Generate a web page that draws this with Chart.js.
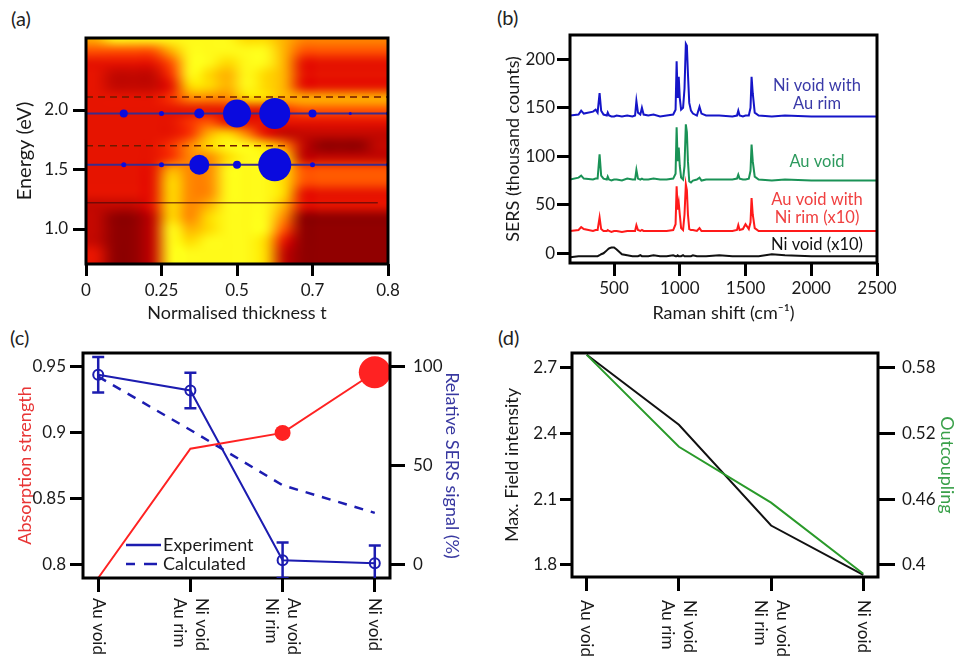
<!DOCTYPE html>
<html>
<head>
<meta charset="utf-8">
<script src="https://cdn.jsdelivr.net/npm/chart.js@4.4.1/dist/chart.umd.min.js"></script>
<style>
  body{margin:0;background:#fff;width:958px;height:659px;position:relative;overflow:hidden;font-family:Lato,sans-serif;}
  canvas{position:absolute;}
  .tag{position:absolute;font-size:20px;color:#222;line-height:22px;}
</style>
</head>
<body>
<div class="tag" style="left:11px;top:7px">(a)</div>
<div class="tag" style="left:497px;top:6px">(b)</div>
<div class="tag" style="left:10px;top:326px">(c)</div>
<div class="tag" style="left:498px;top:326px">(d)</div>
<canvas id="chartA" width="470" height="330" style="left:0;top:0"></canvas>
<canvas id="chartB" width="488" height="330" style="left:470px;top:0"></canvas>
<canvas id="chartC" width="480" height="329" style="left:0;top:330px"></canvas>
<canvas id="chartD" width="478" height="329" style="left:480px;top:330px"></canvas>
<script>
// ---- (a) absorption map + SERS bubbles ----
const thicknessTicks = [0, 2, 4, 6, 8];            // axis runs in eighths of the plotted range
const thicknessLabels = ["0", "0.25", "0.5", "0.7", "0.8"];
const energyTicks = [1.0, 1.5, 2.0];
const bubbleCols = [1, 2, 3, 4, 5, 6, 7, 8];
const upperEnergy = 1.97;
const lowerEnergy = 1.54;
const upperSizes = [4, 2.5, 5, 14, 15.5, 4, 1.5, 2];
const lowerSizes = [2.5, 2.5, 10, 4, 16.5, 2.5, 0, 2];
const dashedEnergies = [2.11, 1.70];
const dashedEnds = [8, 5.3];
const cutoffEnergy = 1.22;
const cutoffEnd = 7.73;
// absorption map, rows from 2.6 eV down to 0.7 eV (0.1 eV steps), 16 columns; 0 = dark red .. 9 = yellow
const heatLevels = [
  [7,9,9,9,9,9,9,9, 8,8,7,6,6,6,6,6],
  [5,5,5,5,7,9,9,9, 9,9,7,5,5,5,5,5],
  [3,3,3,3,5,9,9,8, 9,9,7,3,3,3,3,3],
  [3,2,2,2,4,9,8,7, 9,8,7,3,3,3,3,3],
  [3,2,2,2,3,8,8,7, 9,8,7,3,3,3,3,3],
  [3,3,3,3,4,6,6,6, 8,8,7,7,7,7,7,7],
  [3,3,3,3,3,3,3,3, 3,3,4,5,5,5,5,5],
  [3,3,3,3,3,4,5,3, 3,3,3,3,3,3,3,3],
  [3,3,3,3,3,4,7,8, 6,3,2,2,2,2,2,2],
  [3,3,3,3,4,6,8,9, 9,8,6,2,1,1,1,2],
  [3,3,3,3,4,6,6,8, 9,9,8,2,2,2,2,2],
  [3,3,3,3,7,6,6,9, 9,9,8,5,5,5,5,5],
  [3,3,3,3,8,6,6,9, 9,9,8,5,5,5,5,5],
  [3,3,3,3,8,6,6,9, 9,9,8,3,3,3,3,3],
  [2,2,2,3,8,6,7,9, 9,9,7,3,3,3,3,3],
  [2,1,1,2,8,6,8,9, 9,9,6,1,1,1,1,1],
  [2,1,1,2,9,7,8,9, 9,9,5,1,1,1,1,1],
  [2,1,1,2,9,8,9,9, 9,8,3,1,1,1,1,1],
  [3,1,1,2,9,9,9,9, 9,8,2,1,1,1,1,1],
  [3,1,1,2,9,9,9,9, 9,8,2,1,1,1,1,1]
];
const heatPalette = [
  [100,0,0],[145,0,0],[195,8,0],[230,20,0],[248,50,0],
  [255,85,0],[255,135,0],[255,178,0],[255,218,0],[255,250,25]
];

// ---- (b) SERS spectra ----
const ramanShift = [165,230,250,270,340,360,375,390,402,420,445,452,462,480,500,520,560,600,640,660,
  670,682,700,712,725,760,800,850,900,950,968,976,984,992,1000,1010,1025,1036,1046,1054,
  1062,1072,1085,1100,1130,1150,1165,1200,1300,1400,1435,1445,1455,1480,1500,1525,1538,1546,1555,1570,
  1600,1700,1800,2000,2200,2500];
const niVoidAuRim = [142,143,147,144,146,148,145,165,147,143,142,145,142,141,141,142,141,142,141,142,
  157,145,143,150,143,142,143,141,142,143,148,198,160,182,160,148,150,170,216,214,
  185,155,147,144,142,151,144,142,142,141,142,147,142,141,142,142,150,182,165,145,
  142,141,142,141,141,141];
const auVoid = [76,78,80,77,76,77,77,102,80,77,76,79,76,75,76,76,75,77,76,76,
  86,77,76,77,76,76,77,76,76,77,82,130,95,109,90,78,76,90,133,125,
  95,74,73,75,76,78,75,76,76,76,77,81,77,76,76,77,85,112,95,79,
  76,75,76,75,75,75];
const auVoidNiRim = [23,24,27,25,23,24,24,37,25,23,23,24,23,22,23,23,22,23,23,23,
  29,24,23,24,23,23,23,23,23,24,30,69,45,52,40,26,24,40,71,65,
  40,25,24,24,23,26,23,23,23,23,24,29,24,25,30,25,32,57,40,26,
  23,23,23,23,23,23];
const niVoid = [-4,-3,-3,-3,-3,-3,-3,-2,-1,0,3,4,5,6,6,4,-1,-2,-3,-3,
  -3,-3,-2,-3,-3,-3,-2,-3,-3,-2,-3,-3,-2,-3,-3,-3,-2,-3,-3,-3,
  -3,-3,-3,-2,-3,-3,-3,-3,-2,-3,-3,-3,-3,-3,-3,-3,-3,-3,-3,-3,
  -3,-1,-2,-3,-3,-3];
const shiftTicks = [500, 1000, 1500, 2000, 2500];
const countTicks = [0, 50, 100, 150, 200];

// ---- (c) absorption vs SERS ----
const structures = [["Au void"], ["Ni void", "Au rim"], ["Au void", "Ni rim"], ["Ni void"]];
const absorption = [0.79, 0.888, 0.9, 0.946];
const absorptionMarker = [0, 0, 8, 16];
const sersExperiment = [96, 88, 2, 0.5];
const sersError = [9, 9, 9, 9];
const sersCalculated = [95, 68, 40, 26];
const absorptionTicks = [0.8, 0.85, 0.9, 0.95];
const sersTicks = [0, 50, 100];

// ---- (d) field intensity vs outcoupling ----
const fieldIntensity = [2.76, 2.44, 1.98, 1.755];
const outcoupling = [0.592, 0.508, 0.457, 0.392];
const fieldTicks = [1.8, 2.1, 2.4, 2.7];
const outcouplingTicks = [0.4, 0.46, 0.52, 0.58];

const FONT = 'Lato, "Open Sans", sans-serif';
Chart.defaults.font.family = FONT;
Chart.defaults.font.size = 17;
Chart.defaults.color = "#1a1a1a";
Chart.defaults.animation = false;
Chart.defaults.events = [];
Chart.defaults.plugins.legend.display = false;
Chart.defaults.plugins.tooltip.enabled = false;

function tickMarks(len){
  return {drawOnChartArea:false, drawTicks:true, tickLength:len, tickWidth:3, tickColor:"#000"};
}
function fixedTicks(values){
  return s => { s.ticks = values.map(v => ({value:v})); };
}
function fixWidth(w){
  return s => { s.width = w; s.paddingTop = 0; s.paddingBottom = 0; };
}
function fixHeight(h){
  return s => { s.height = h; s.paddingLeft = 0; s.paddingRight = 0; };
}

const framePlugin = {
  id:"frame",
  afterDatasetsDraw(chart){
    const {ctx, chartArea:a} = chart;
    ctx.save();
    ctx.lineWidth = 3;
    ctx.strokeStyle = "#000";
    ctx.strokeRect(a.left, a.top, a.width, a.height);
    ctx.restore();
  }
};

// heat map painted from heatLevels, stretched onto the x/y scales and smoothed
const heatPlugin = {
  id:"heat",
  beforeDatasetsDraw(chart){
    const {ctx, chartArea:a, scales} = chart;
    const rows = heatLevels.length, cols = heatLevels[0].length;
    const off = document.createElement("canvas");
    off.width = cols; off.height = rows;
    const octx = off.getContext("2d");
    const img = octx.createImageData(cols, rows);
    heatLevels.forEach((row, r) => row.forEach((v, c) => {
      const k = (r * cols + c) * 4, rgb = heatPalette[v];
      img.data[k] = rgb[0]; img.data[k+1] = rgb[1]; img.data[k+2] = rgb[2]; img.data[k+3] = 255;
    }));
    octx.putImageData(img, 0, 0);
    const x0 = scales.x.getPixelForValue(0), x1 = scales.x.getPixelForValue(8);
    const y0 = scales.y.getPixelForValue(2.65), y1 = scales.y.getPixelForValue(0.65);
    ctx.save();
    ctx.beginPath();
    ctx.rect(a.left, a.top, a.width, a.height);
    ctx.clip();
    ctx.imageSmoothingEnabled = true;
    ctx.imageSmoothingQuality = "high";
    ctx.drawImage(off, x0, y0, x1 - x0, y1 - y0);
    ctx.restore();
  }
};

function flatLine(level, end, color, width, dash){
  return {type:"line", data:[{x:0, y:level}, {x:end, y:level}], borderColor:color, borderWidth:width,
    borderDash:dash, pointRadius:0, order:2};
}

new Chart(document.getElementById("chartA"), {
  type:"bubble",
  data:{datasets:[
    flatLine(dashedEnergies[0], dashedEnds[0], "#6e1a00", 1.5, [7, 5]),
    flatLine(dashedEnergies[1], dashedEnds[1], "#6e1a00", 1.5, [7, 5]),
    flatLine(cutoffEnergy, cutoffEnd, "#4a0a0a", 1, []),
    flatLine(upperEnergy, 8, "#3b2c8c", 2, []),
    flatLine(lowerEnergy, 8, "#3b2c8c", 2, []),
    {data:bubbleCols.map((x, i) => ({x, y:upperEnergy, r:upperSizes[i]})), backgroundColor:"#0a0ade", borderWidth:0, order:0},
    {data:bubbleCols.map((x, i) => ({x, y:lowerEnergy, r:lowerSizes[i]})), backgroundColor:"#0a0ade", borderWidth:0, order:0}
  ]},
  options:{
    responsive:false,
    layout:{padding:{top:38, right:82, left:0, bottom:0}},
    scales:{
      x:{type:"linear", min:0, max:8, afterBuildTicks:fixedTicks(thicknessTicks), afterFit:fixHeight(66),
        ticks:{autoSkip:false, maxRotation:0, padding:4, callback:(v, i) => thicknessLabels[i]},
        grid:tickMarks(12), border:{display:false},
        title:{display:true, text:"Normalised thickness t", font:{size:18}, padding:{top:0, bottom:6}}},
      y:{type:"linear", min:0.706, max:2.605, afterBuildTicks:fixedTicks(energyTicks), afterFit:fixWidth(86),
        ticks:{padding:5, callback:v => v.toFixed(1)},
        grid:tickMarks(13), border:{display:false},
        title:{display:true, text:"Energy (eV)", font:{size:20}, padding:{top:13, bottom:0}}}
    }
  },
  plugins:[heatPlugin, framePlugin]
});

// ---- (b) ----
const spectraNotes = {
  id:"notes",
  afterDatasetsDraw(chart){
    const ctx = chart.ctx;
    const notes = [
      ["Ni void with", "#3a3aa8", 86], ["Au rim", "#3a3aa8", 104],
      ["Au void", "#2e9a5e", 162],
      ["Au void with", "#f04040", 200], ["Ni rim (x10)", "#f04040", 218],
      ["Ni void (x10)", "#111", 245]
    ];
    ctx.save();
    ctx.font = "16.5px " + FONT;
    ctx.textAlign = "center";
    ctx.textBaseline = "middle";
    notes.forEach(n => { ctx.fillStyle = n[1]; ctx.fillText(n[0], 347, n[2]); });
    ctx.restore();
  }
};

function spectrum(values, color){
  return {data:ramanShift.map((s, i) => ({x:s, y:values[i]})), borderColor:color, borderWidth:2,
    pointRadius:0, tension:0};
}

new Chart(document.getElementById("chartB"), {
  type:"line",
  data:{datasets:[
    spectrum(niVoid, "#111111"),
    spectrum(auVoidNiRim, "#ff1a1a"),
    spectrum(auVoid, "#1a9256"),
    spectrum(niVoidAuRim, "#1515c8")
  ]},
  options:{
    responsive:false,
    layout:{padding:{top:35, right:81, left:0, bottom:0}},
    scales:{
      x:{type:"linear", min:165, max:2500, afterBuildTicks:fixedTicks(shiftTicks), afterFit:fixHeight(67),
        ticks:{autoSkip:false, maxRotation:0, padding:2, callback:v => String(v)},
        grid:tickMarks(13), border:{display:false},
        title:{display:true, text:"Raman shift (cm⁻¹)", font:{size:18}, padding:{top:0, bottom:6}}},
      y:{type:"linear", min:-10, max:225, afterBuildTicks:fixedTicks(countTicks), afterFit:fixWidth(100),
        ticks:{padding:2, callback:v => String(v)},
        grid:tickMarks(13), border:{display:false},
        title:{display:true, text:"SERS (thousand counts)", font:{size:18}, padding:{top:32, bottom:0}}}
    }
  },
  plugins:[framePlugin, spectraNotes]
});

// category labels turned 90deg clockwise under the x axis
function structureLabels(gapTop){
  return {
    id:"structureLabels",
    afterDraw(chart){
      const {ctx, chartArea:a, scales} = chart;
      ctx.save();
      ctx.font = "17px " + FONT;
      ctx.fillStyle = "#1a1a1a";
      ctx.textAlign = "left";
      ctx.textBaseline = "middle";
      structures.forEach((lines, i) => {
        const px = scales.x.getPixelForValue(i);
        lines.forEach((line, j) => {
          const off = lines.length === 1 ? 0 : (j === 0 ? 11 : -11);
          ctx.save();
          ctx.translate(px + off, a.bottom + gapTop);
          ctx.rotate(Math.PI / 2);
          ctx.fillText(line, 0, 0);
          ctx.restore();
        });
      });
      ctx.restore();
    }
  };
}

const errorBars = {
  id:"errorBars",
  afterDatasetsDraw(chart){
    const {ctx, chartArea:a, scales} = chart;
    ctx.save();
    ctx.beginPath();
    ctx.rect(a.left, a.top, a.width, a.height);
    ctx.clip();
    ctx.strokeStyle = "#1c1cb0";
    ctx.lineWidth = 2.5;
    sersExperiment.forEach((v, i) => {
      const x = scales.x.getPixelForValue(i);
      const yHi = scales.y2.getPixelForValue(v + sersError[i]);
      const yLo = scales.y2.getPixelForValue(v - sersError[i]);
      ctx.beginPath();
      ctx.moveTo(x, yHi); ctx.lineTo(x, yLo);
      ctx.moveTo(x - 6, yHi); ctx.lineTo(x + 6, yHi);
      ctx.moveTo(x - 6, yLo); ctx.lineTo(x + 6, yLo);
      ctx.stroke();
    });
    ctx.restore();
  }
};

const sersLegend = {
  id:"sersLegend",
  afterDraw(chart){
    const ctx = chart.ctx;
    ctx.save();
    ctx.strokeStyle = "#1c1cb0";
    ctx.lineWidth = 2.5;
    ctx.beginPath(); ctx.moveTo(126, 215); ctx.lineTo(161, 215); ctx.stroke();
    ctx.beginPath(); ctx.moveTo(126, 234); ctx.lineTo(135, 234); ctx.moveTo(144, 234); ctx.lineTo(157, 234); ctx.stroke();
    ctx.font = "18px " + FONT;
    ctx.fillStyle = "#1a1a1a";
    ctx.textBaseline = "middle";
    ctx.fillText("Experiment", 163, 215);
    ctx.fillText("Calculated", 163, 234);
    ctx.restore();
  }
};

new Chart(document.getElementById("chartC"), {
  type:"line",
  data:{datasets:[
    {data:absorption.map((v, i) => ({x:i, y:v})), yAxisID:"y", borderColor:"#ff2222", borderWidth:2,
      pointRadius:absorptionMarker, pointBackgroundColor:"#ff2222", pointBorderWidth:0, clip:false},
    {data:sersCalculated.map((v, i) => ({x:i, y:v})), yAxisID:"y2", borderColor:"#1c1cb0", borderWidth:2.5,
      borderDash:[9, 8], pointRadius:0},
    {data:sersExperiment.map((v, i) => ({x:i, y:v})), yAxisID:"y2", borderColor:"#1c1cb0", borderWidth:2,
      pointRadius:5, pointBackgroundColor:"rgba(0,0,0,0)", pointBorderColor:"#1c1cb0", pointBorderWidth:2}
  ]},
  options:{
    responsive:false,
    layout:{padding:{top:23, right:0, left:0, bottom:0}},
    scales:{
      x:{type:"linear", min:-0.165, max:3.165, afterBuildTicks:fixedTicks([0, 1, 2, 3]), afterFit:fixHeight(81),
        ticks:{display:false}, grid:tickMarks(14), border:{display:false}},
      y:{type:"linear", position:"left", min:0.79, max:0.9606, afterBuildTicks:fixedTicks(absorptionTicks), afterFit:fixWidth(83),
        ticks:{padding:4, callback:v => String(v)},
        grid:tickMarks(13), border:{display:false},
        title:{display:true, text:"Absorption strength", color:"#e83535", font:{size:18}, padding:{top:14, bottom:0}}},
      y2:{type:"linear", position:"right", min:-7, max:107, afterBuildTicks:fixedTicks(sersTicks), afterFit:fixWidth(90),
        ticks:{padding:8},
        grid:tickMarks(15), border:{display:false},
        title:{display:true, text:"Relative SERS signal (%)", color:"#3838a0", font:{size:18}, padding:{top:17, bottom:0}}}
    }
  },
  plugins:[framePlugin, errorBars, sersLegend, structureLabels(20)]
});

// ---- (d) ----
new Chart(document.getElementById("chartD"), {
  type:"line",
  data:{datasets:[
    {data:outcoupling.map((v, i) => ({x:i, y:v})), yAxisID:"y2", borderColor:"#2a9a2a", borderWidth:2, pointRadius:0},
    {data:fieldIntensity.map((v, i) => ({x:i, y:v})), yAxisID:"y", borderColor:"#111111", borderWidth:2, pointRadius:0}
  ]},
  options:{
    responsive:false,
    layout:{padding:{top:23, right:0, left:0, bottom:0}},
    scales:{
      x:{type:"linear", min:-0.16, max:3.16, afterBuildTicks:fixedTicks([0, 1, 2, 3]), afterFit:fixHeight(82),
        ticks:{display:false}, grid:tickMarks(14), border:{display:false}},
      y:{type:"linear", position:"left", min:1.745, max:2.768, afterBuildTicks:fixedTicks(fieldTicks), afterFit:fixWidth(92),
        ticks:{padding:3, callback:v => v.toFixed(1)},
        grid:tickMarks(12), border:{display:false},
        title:{display:true, text:"Max. Field intensity", font:{size:18}, padding:{top:21, bottom:0}}},
      y2:{type:"linear", position:"right", min:0.389, max:0.5937, afterBuildTicks:fixedTicks(outcouplingTicks), afterFit:fixWidth(80),
        ticks:{padding:7, callback:v => String(v)},
        grid:tickMarks(17), border:{display:false},
        title:{display:true, text:"Outcoupling", color:"#3aa04a", font:{size:18}, padding:{top:0, bottom:0}}}
    }
  },
  plugins:[framePlugin, structureLabels(23)]
});
</script>
</body>
</html>
